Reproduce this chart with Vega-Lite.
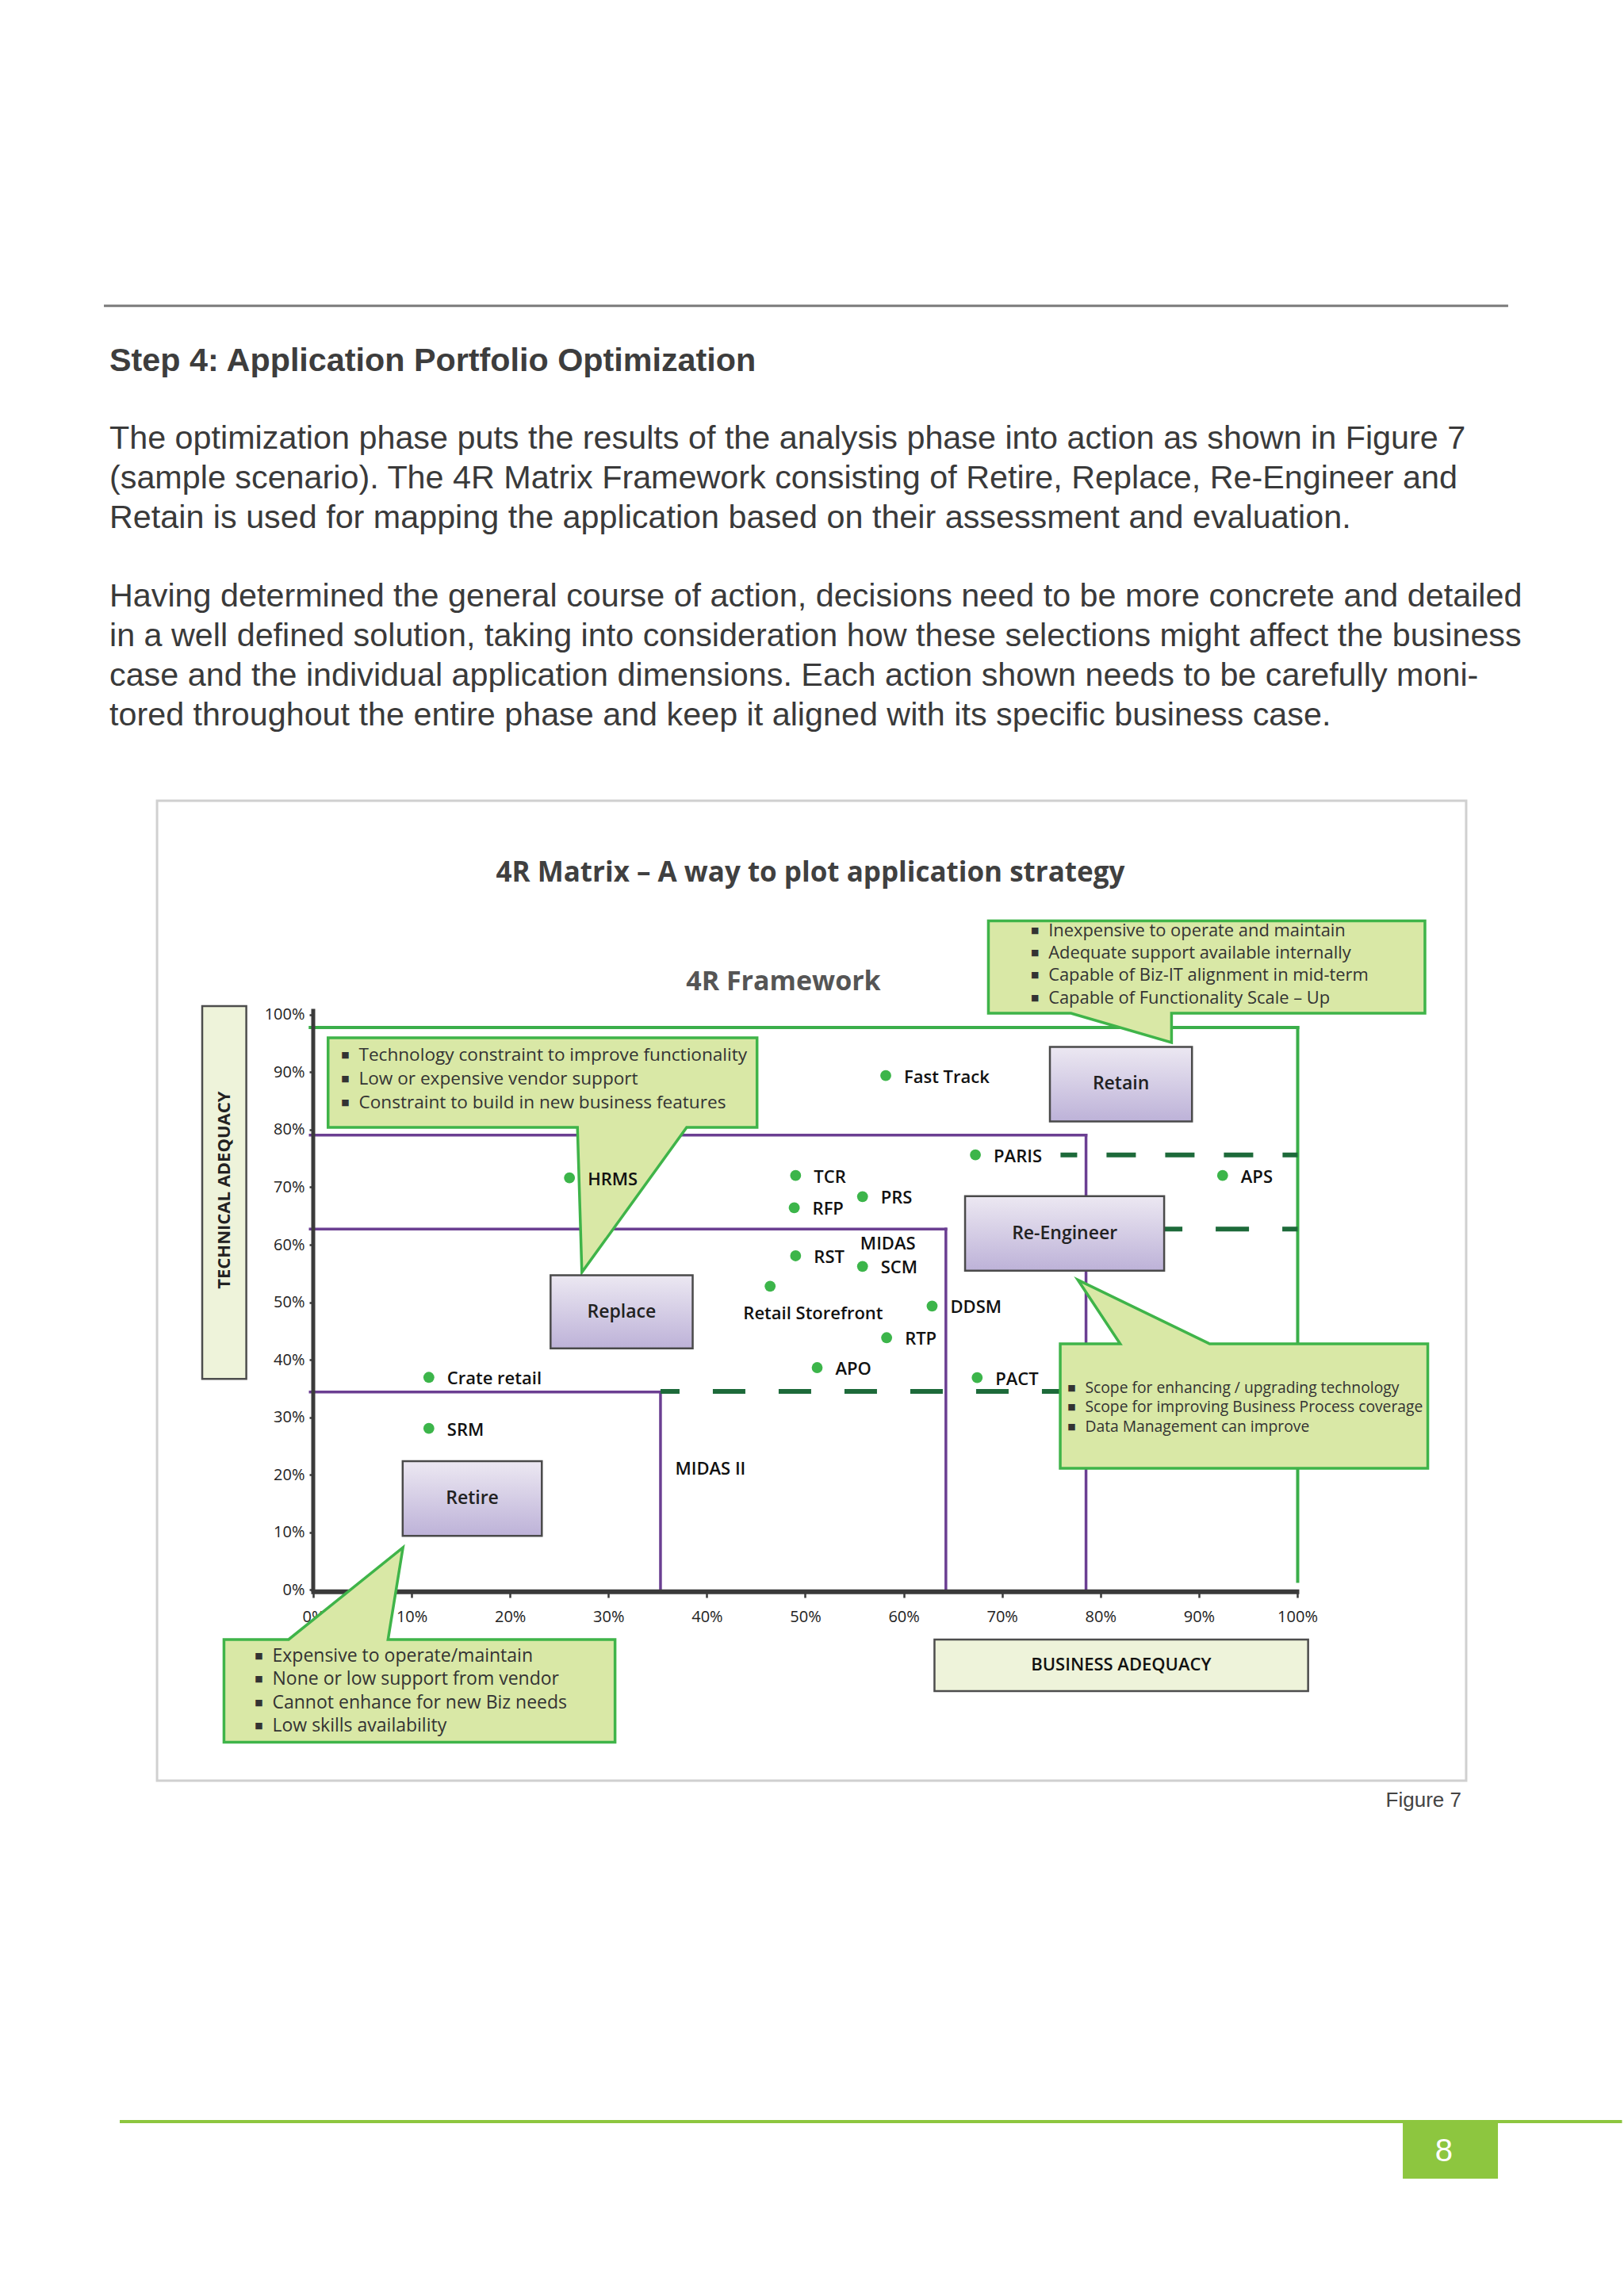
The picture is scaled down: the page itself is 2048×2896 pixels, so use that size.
{
"$schema":"https://vega.github.io/schema/vega-lite/v6.json",
"width":2048,"height":2896,"autosize":{"type":"none"},"padding":0,"background":"#ffffff",
"config":{"view":{"stroke":null}},
"datasets":{
"rules":[
{"kind":"top","x":-21.27,"x2":121.43,"y":223.2,"y2":223.2},
{"kind":"bottom","x":-19.66,"x2":133.0,"y":-92.39,"y2":-92.39},
{"kind":"green","x":-0.3,"x2":100.04,"y":97.77,"y2":97.77},
{"kind":"green","x":100.04,"x2":100.04,"y":97.77,"y2":1.5},
{"kind":"purple","x":-0.3,"x2":78.53,"y":79.07,"y2":79.07},
{"kind":"purple","x":78.53,"x2":78.53,"y":79.07,"y2":0},
{"kind":"purple","x":-0.3,"x2":64.29,"y":62.72,"y2":62.72},
{"kind":"purple","x":64.29,"x2":64.29,"y":62.72,"y2":0},
{"kind":"purple","x":-0.3,"x2":35.29,"y":34.42,"y2":34.42},
{"kind":"purple","x":35.29,"x2":35.29,"y":34.42,"y2":0},
{"kind":"dash1","x":75.94,"x2":100.04,"y":75.62,"y2":75.62},
{"kind":"dash2","x":86.47,"x2":100.04,"y":62.72,"y2":62.72},
{"kind":"dash3","x":35.29,"x2":78.53,"y":34.5,"y2":34.5},
{"kind":"axisY","x":0,"x2":0,"y":-0.3,"y2":101.0},
{"kind":"axisX","x":-0.2,"x2":100.2,"y":-0.3,"y2":-0.3}
],
"rects":[
{"kind":"frame","x":-15.87,"x2":117.16,"y":137.18,"y2":-33.14},
{"kind":"ybox","x":-11.28,"x2":-6.8,"y":101.49,"y2":36.68},
{"kind":"xbox","x":63.13,"x2":101.1,"y":-8.61,"y2":-17.57},
{"kind":"page","x":110.72,"x2":120.39,"y":-92.67,"y2":-102.31},
{"kind":"quad","name":"Retain","x":74.86,"x2":89.3,"y":94.4,"y2":81.43},
{"kind":"quad","name":"Re-Engineer","x":66.24,"x2":86.47,"y":68.45,"y2":55.48},
{"kind":"quad","name":"Replace","x":24.12,"x2":38.56,"y":54.71,"y2":41.99},
{"kind":"quad","name":"Retire","x":9.09,"x2":23.23,"y":22.39,"y2":9.41}
],
"callouts":[
{"id":"retain","i":0,"x":68.61,"y":116.3},{"id":"retain","i":1,"x":112.97,"y":116.3},{"id":"retain","i":2,"x":112.97,"y":100.25},{"id":"retain","i":3,"x":87.22,"y":100.25},{"id":"retain","i":4,"x":87.22,"y":95.16},{"id":"retain","i":5,"x":77.0,"y":100.25},{"id":"retain","i":6,"x":68.61,"y":100.25},{"id":"retain","i":7,"x":68.61,"y":116.3},{"id":"retain","i":8,"x":112.97,"y":116.3},
{"id":"replace","i":0,"x":1.51,"y":95.98},{"id":"replace","i":1,"x":45.1,"y":95.98},{"id":"replace","i":2,"x":45.1,"y":80.4},{"id":"replace","i":3,"x":37.95,"y":80.4},{"id":"replace","i":4,"x":27.3,"y":55.2},{"id":"replace","i":5,"x":26.85,"y":80.4},{"id":"replace","i":6,"x":1.51,"y":80.4},{"id":"replace","i":7,"x":1.51,"y":95.98},{"id":"replace","i":8,"x":45.1,"y":95.98},
{"id":"reeng","i":0,"x":75.91,"y":42.79},{"id":"reeng","i":1,"x":82.0,"y":42.79},{"id":"reeng","i":2,"x":77.7,"y":53.9},{"id":"reeng","i":3,"x":91.09,"y":42.79},{"id":"reeng","i":4,"x":113.26,"y":42.79},{"id":"reeng","i":5,"x":113.26,"y":21.15},{"id":"reeng","i":6,"x":75.91,"y":21.15},{"id":"reeng","i":7,"x":75.91,"y":42.79},{"id":"reeng","i":8,"x":82.0,"y":42.79},
{"id":"retire","i":0,"x":-9.07,"y":-8.61},{"id":"retire","i":1,"x":-2.5,"y":-8.61},{"id":"retire","i":2,"x":9.12,"y":7.39},{"id":"retire","i":3,"x":7.6,"y":-8.61},{"id":"retire","i":4,"x":30.67,"y":-8.61},{"id":"retire","i":5,"x":30.67,"y":-26.47},{"id":"retire","i":6,"x":-9.07,"y":-26.47},{"id":"retire","i":7,"x":-9.07,"y":-8.61},{"id":"retire","i":8,"x":-2.5,"y":-8.61}
],
"apps":[
{"name":"Fast Track","x":58.18,"y":89.41},
{"name":"PARIS","x":67.29,"y":75.62},
{"name":"HRMS","x":26.04,"y":71.63},
{"name":"TCR","x":49.02,"y":72.04},
{"name":"APS","x":92.41,"y":72.04},
{"name":"PRS","x":55.82,"y":68.37},
{"name":"RFP","x":48.88,"y":66.44},
{"name":"RST","x":49.02,"y":58.08},
{"name":"SCM","x":55.82,"y":56.25},
{"name":"Retail Storefront","x":46.43,"y":52.8},
{"name":"DDSM","x":62.89,"y":49.36},
{"name":"RTP","x":58.27,"y":43.85},
{"name":"APO","x":51.21,"y":38.65},
{"name":"PACT","x":67.47,"y":36.9},
{"name":"Crate retail","x":11.75,"y":36.96},
{"name":"SRM","x":11.75,"y":28.08}
],
"texts":[
{"role":"heading","text":"Step 4: Application Portfolio Optimization","x":-20.71,"y":213.52},
{"role":"body","text":"The optimization phase puts the results of the analysis phase into action as shown in Figure 7","x":-20.71,"y":200.01},
{"role":"body","text":"(sample scenario). The 4R Matrix Framework consisting of Retire, Replace, Re-Engineer and","x":-20.71,"y":193.13},
{"role":"body","text":"Retain is used for mapping the application based on their assessment and evaluation.","x":-20.71,"y":186.23},
{"role":"body","text":"Having determined the general course of action, decisions need to be more concrete and detailed","x":-20.71,"y":172.59},
{"role":"body","text":"in a well defined solution, taking into consideration how these selections might affect the business","x":-20.71,"y":165.7},
{"role":"body","text":"case and the individual application dimensions. Each action shown needs to be carefully moni-","x":-20.71,"y":158.81},
{"role":"body","text":"tored throughout the entire phase and keep it aligned with its specific business case.","x":-20.71,"y":151.92},
{"role":"title","text":"4R Matrix – A way to plot application strategy","x":50.52,"y":124.7},
{"role":"subtitle","text":"4R Framework","x":47.78,"y":105.6},
{"role":"ytitle","text":"TECHNICAL ADEQUACY","x":-9.04,"y":69.5},
{"role":"xtitle","text":"BUSINESS ADEQUACY","x":82.1,"y":-13.09},
{"role":"box","text":"Retain","x":82.08,"y":87.92},
{"role":"box","text":"Re-Engineer","x":76.36,"y":61.97},
{"role":"box","text":"Replace","x":31.34,"y":48.35},
{"role":"box","text":"Retire","x":16.16,"y":15.9},
{"role":"free","text":"MIDAS","x":55.59,"y":60.1},
{"role":"free","text":"MIDAS II","x":36.78,"y":21.0},
{"role":"freec","text":"Retail Storefront","x":50.8,"y":48.07},
{"role":"caption","text":"Figure 7","x":116.68,"y":-36.65},
{"role":"page","text":"8","x":114.9,"y":-97.6},
{"role":"callout","group":"retain","text":"Inexpensive to operate and maintain","x":74.71,"y":114.51},
{"role":"callout","group":"retain","text":"Adequate support available internally","x":74.71,"y":110.69},
{"role":"callout","group":"retain","text":"Capable of Biz-IT alignment in mid-term","x":74.71,"y":106.88},
{"role":"callout","group":"retain","text":"Capable of Functionality Scale – Up","x":74.71,"y":102.8},
{"role":"callout","group":"replace","text":"Technology constraint to improve functionality","x":4.63,"y":92.88},
{"role":"callout","group":"replace","text":"Low or expensive vendor support","x":4.63,"y":88.81},
{"role":"callout","group":"replace","text":"Constraint to build in new business features","x":4.63,"y":84.73},
{"role":"callout","group":"reeng","text":"Scope for enhancing / upgrading technology","x":78.44,"y":35.11},
{"role":"callout","group":"reeng","text":"Scope for improving Business Process coverage","x":78.44,"y":31.8},
{"role":"callout","group":"reeng","text":"Data Management can improve","x":78.44,"y":28.25},
{"role":"callout","group":"retire","text":"Expensive to operate/maintain","x":-4.15,"y":-11.45},
{"role":"callout","group":"retire","text":"None or low support from vendor","x":-4.15,"y":-15.53},
{"role":"callout","group":"retire","text":"Cannot enhance for new Biz needs","x":-4.15,"y":-19.59},
{"role":"callout","group":"retire","text":"Low skills availability","x":-4.15,"y":-23.67}
]
},
"encoding":{
"x":{"field":"x","type":"quantitative","scale":{"domain":[-31.829,133.199],"nice":false,"zero":false},
 "axis":{"orient":"bottom","offset":-887,"values":[0,10,20,30,40,50,60,70,80,90,100],"domain":false,"grid":false,"tickSize":6,"tickWidth":2.5,"tickColor":"#3a3a3a","labelExpr":"datum.value + '%'","labelFont":"Open Sans","labelFontSize":20,"labelColor":"#222222","labelPadding":14,"title":null,"labelFlush":false,"labelOverlap":false}},
"y":{"field":"y","type":"quantitative","scale":{"domain":[-122.71,276.35],"nice":false,"zero":false},
 "axis":{"orient":"left","offset":-395,"values":[0,10,20,30,40,50,60,70,80,90,100],"domain":false,"grid":false,"tickSize":5,"tickWidth":2.5,"tickColor":"#3a3a3a","labelExpr":"datum.value + '%'","labelFont":"Open Sans","labelFontSize":20,"labelColor":"#222222","labelPadding":6,"title":null,"labelFlush":false,"labelOverlap":false}}
},
"layer":[
{"data":{"name":"rects"},"transform":[{"filter":"datum.kind=='frame'"}],"mark":{"type":"rect","filled":false,"stroke":"#d0d0d0","strokeWidth":3},"encoding":{"x2":{"field":"x2"},"y2":{"field":"y2"}}},
{"data":{"name":"rules"},"transform":[{"filter":"datum.kind=='top'"}],"mark":{"type":"rule","color":"#7a7a7a","strokeWidth":3},"encoding":{"x2":{"field":"x2"},"y2":{"field":"y2"}}},
{"data":{"name":"rules"},"transform":[{"filter":"datum.kind=='bottom'"}],"mark":{"type":"rule","color":"#8dc63f","strokeWidth":4},"encoding":{"x2":{"field":"x2"},"y2":{"field":"y2"}}},
{"data":{"name":"rects"},"transform":[{"filter":"datum.kind=='page'"}],"mark":{"type":"rect","color":"#8dc63f"},"encoding":{"x2":{"field":"x2"},"y2":{"field":"y2"}}},
{"data":{"name":"rects"},"transform":[{"filter":"datum.kind=='ybox' || datum.kind=='xbox'"}],"mark":{"type":"rect","fill":"#eef3da","stroke":"#4d4d4d","strokeWidth":2.5},"encoding":{"x2":{"field":"x2"},"y2":{"field":"y2"}}},
{"data":{"name":"rules"},"transform":[{"filter":"datum.kind=='green'"}],"mark":{"type":"rule","color":"#3aae4a","strokeWidth":4,"strokeCap":"square"},"encoding":{"x2":{"field":"x2"},"y2":{"field":"y2"}}},
{"data":{"name":"rules"},"transform":[{"filter":"datum.kind=='purple'"}],"mark":{"type":"rule","color":"#6b3f92","strokeWidth":3.5,"strokeCap":"square"},"encoding":{"x2":{"field":"x2"},"y2":{"field":"y2"}}},
{"data":{"name":"rules"},"transform":[{"filter":"datum.kind=='dash1'"}],"mark":{"type":"rule","color":"#1d6a3a","strokeWidth":6,"strokeDash":[37,37],"strokeDashOffset":16},"encoding":{"x2":{"field":"x2"},"y2":{"field":"y2"}}},
{"data":{"name":"rules"},"transform":[{"filter":"datum.kind=='dash2'"}],"mark":{"type":"rule","color":"#1d6a3a","strokeWidth":6,"strokeDash":[42,42],"strokeDashOffset":19},"encoding":{"x2":{"field":"x2"},"y2":{"field":"y2"}}},
{"data":{"name":"rules"},"transform":[{"filter":"datum.kind=='dash3'"}],"mark":{"type":"rule","color":"#1d6a3a","strokeWidth":6,"strokeDash":[41,42],"strokeDashOffset":17},"encoding":{"x2":{"field":"x2"},"y2":{"field":"y2"}}},
{"data":{"name":"rules"},"transform":[{"filter":"datum.kind=='axisY'"}],"mark":{"type":"rule","color":"#3a3a3a","strokeWidth":5},"encoding":{"x2":{"field":"x2"},"y2":{"field":"y2"}}},
{"data":{"name":"rules"},"transform":[{"filter":"datum.kind=='axisX'"}],"mark":{"type":"rule","color":"#3a3a3a","strokeWidth":6},"encoding":{"x2":{"field":"x2"},"y2":{"field":"y2"}}},
{"data":{"name":"callouts"},"mark":{"type":"line","fill":"#d9e8a6","stroke":"#3fb449","strokeWidth":3.5,"strokeJoin":"miter","interpolate":"linear"},"encoding":{"detail":{"field":"id"},"order":{"field":"i","type":"quantitative"}}},
{"data":{"name":"rects"},"transform":[{"filter":"datum.kind=='quad'"}],"mark":{"type":"rect","fill":{"gradient":"linear","x1":0,"y1":0,"x2":0,"y2":1,"stops":[{"offset":0,"color":"#ece8f2"},{"offset":1,"color":"#bdb2d8"}]},"stroke":"#4a4a4a","strokeWidth":2.5},"encoding":{"x2":{"field":"x2"},"y2":{"field":"y2"}}},
{"data":{"name":"apps"},"mark":{"type":"circle","size":190,"color":"#3cb54a","opacity":1}},
{"data":{"name":"apps"},"transform":[{"filter":"datum.name != 'Retail Storefront'"}],"mark":{"type":"text","align":"left","baseline":"middle","dx":23,"dy":2,"font":"Open Sans","fontSize":22,"fontWeight":600,"color":"#111111"},"encoding":{"text":{"field":"name"}}},
{"data":{"name":"texts"},"transform":[{"filter":"datum.role=='heading'"}],"mark":{"type":"text","align":"left","baseline":"middle","font":"Liberation Sans","fontSize":41.3,"fontWeight":"bold","color":"#3d3d3d"},"encoding":{"text":{"field":"text"}}},
{"data":{"name":"texts"},"transform":[{"filter":"datum.role=='body'"}],"mark":{"type":"text","align":"left","baseline":"middle","font":"Liberation Sans","fontSize":41.3,"color":"#3a3a3a"},"encoding":{"text":{"field":"text"}}},
{"data":{"name":"texts"},"transform":[{"filter":"datum.role=='title'"}],"mark":{"type":"text","align":"center","baseline":"middle","font":"Open Sans","fontSize":35,"fontWeight":"bold","color":"#404040"},"encoding":{"text":{"field":"text"}}},
{"data":{"name":"texts"},"transform":[{"filter":"datum.role=='subtitle'"}],"mark":{"type":"text","align":"center","baseline":"middle","font":"Open Sans","fontSize":34,"fontWeight":"bold","color":"#555555"},"encoding":{"text":{"field":"text"}}},
{"data":{"name":"texts"},"transform":[{"filter":"datum.role=='ytitle'"}],"mark":{"type":"text","align":"center","baseline":"middle","angle":270,"font":"Open Sans","fontSize":22,"fontWeight":"bold","color":"#222222"},"encoding":{"text":{"field":"text"}}},
{"data":{"name":"texts"},"transform":[{"filter":"datum.role=='xtitle'"}],"mark":{"type":"text","align":"center","baseline":"middle","font":"Open Sans","fontSize":22,"fontWeight":600,"color":"#111111"},"encoding":{"text":{"field":"text"}}},
{"data":{"name":"texts"},"transform":[{"filter":"datum.role=='box'"}],"mark":{"type":"text","align":"center","baseline":"middle","font":"Open Sans","fontSize":23,"fontWeight":600,"color":"#222222"},"encoding":{"text":{"field":"text"}}},
{"data":{"name":"texts"},"transform":[{"filter":"datum.role=='free'"}],"mark":{"type":"text","align":"left","baseline":"middle","font":"Open Sans","fontSize":22,"fontWeight":600,"color":"#111111"},"encoding":{"text":{"field":"text"}}},
{"data":{"name":"texts"},"transform":[{"filter":"datum.role=='freec'"}],"mark":{"type":"text","align":"center","baseline":"middle","font":"Open Sans","fontSize":22,"fontWeight":600,"color":"#111111"},"encoding":{"text":{"field":"text"}}},
{"data":{"name":"texts"},"transform":[{"filter":"datum.role=='caption'"}],"mark":{"type":"text","align":"right","baseline":"middle","font":"Liberation Sans","fontSize":26,"color":"#444444"},"encoding":{"text":{"field":"text"}}},
{"data":{"name":"texts"},"transform":[{"filter":"datum.role=='page'"}],"mark":{"type":"text","align":"center","baseline":"middle","font":"Liberation Sans","fontSize":40,"color":"#ffffff"},"encoding":{"text":{"field":"text"}}},
{"data":{"name":"texts"},"transform":[{"filter":"datum.group=='retain'"}],"mark":{"type":"text","align":"left","baseline":"middle","font":"Open Sans","fontSize":21.9,"color":"#333333"},"encoding":{"text":{"field":"text"}}},
{"data":{"name":"texts"},"transform":[{"filter":"datum.group=='replace'"}],"mark":{"type":"text","align":"left","baseline":"middle","font":"Open Sans","fontSize":22.6,"color":"#333333"},"encoding":{"text":{"field":"text"}}},
{"data":{"name":"texts"},"transform":[{"filter":"datum.group=='reeng'"}],"mark":{"type":"text","align":"left","baseline":"middle","font":"Open Sans","fontSize":19.3,"color":"#333333"},"encoding":{"text":{"field":"text"}}},
{"data":{"name":"texts"},"transform":[{"filter":"datum.group=='retire'"}],"mark":{"type":"text","align":"left","baseline":"middle","font":"Open Sans","fontSize":23,"color":"#333333"},"encoding":{"text":{"field":"text"}}},
{"data":{"name":"texts"},"transform":[{"filter":"datum.role=='callout'"}],"mark":{"type":"text","text":"■","align":"center","baseline":"middle","dx":-17,"font":"DejaVu Sans","fontSize":11,"color":"#333333"}}
]
}
